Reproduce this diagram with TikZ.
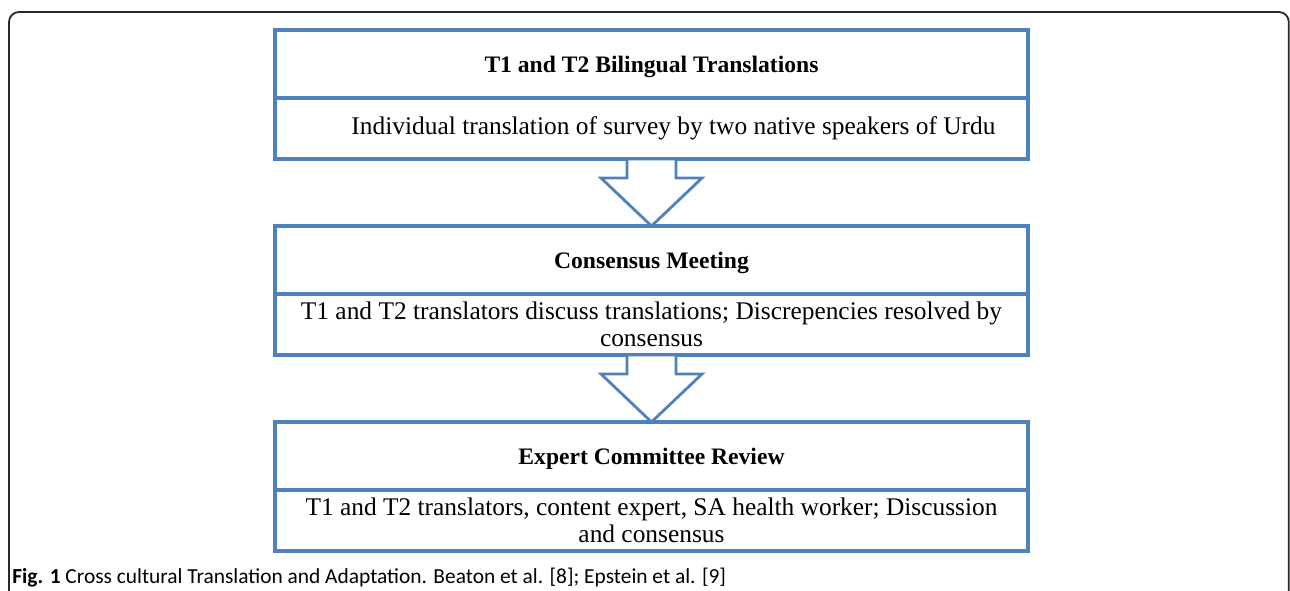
\documentclass[tikz,border=0pt]{standalone}
\usepackage{xcolor}
\usepackage{fontspec}
\setmainfont{Liberation Serif}
\newfontfamily\capfont{Carlito}
\usepackage{tikz}
\usetikzlibrary{shapes,arrows,positioning,calc}
\definecolor{boxblue}{RGB}{79,129,189}
\definecolor{framegray}{RGB}{40,40,40}

\begin{document}
\begin{tikzpicture}[
    head/.style={rectangle, draw=boxblue, line width=1.8pt, outer sep=0pt, align=center, text depth=0pt, minimum width=376.5pt, minimum height=34pt, font=\fontsize{11.8}{14}\selectfont\bfseries},
    body/.style={rectangle, draw=boxblue, line width=1.8pt, outer sep=0pt, align=flush center, text width=355pt, inner sep=2pt, minimum width=376.5pt, minimum height=30.5pt, font=\fontsize{12.7}{13.5}\selectfont},
    blockarrow/.style={draw=boxblue, line width=1.4pt, fill=white, line join=miter}
]
    \useasboundingbox (0,0) rectangle (645pt,-295pt);
    \draw[framegray, line width=0.9pt, rounded corners=5pt] (4.5pt,-320pt) -- (4.5pt,-6pt) -- (644.4pt,-6pt) -- (644.4pt,-320pt);

    \node[head] (t1) at (325.75pt,-32pt) {T1 and T2 Bilingual Translations};
    \node[body, below=0pt of t1] (b1) {\hspace*{22pt}Individual translation of survey by two native speakers of Urdu};
    \node[head, below=33.5pt of b1] (t2) {Consensus Meeting};
    \node[body, below=0pt of t2] (b2) {T1 and T2 translators discuss translations; Discrepencies resolved by consensus};
    \node[head, below=33.5pt of b2] (t3) {Expert Committee Review};
    \node[body, below=0pt of t3] (b3) {T1 and T2 translators, content expert, SA health worker; Discussion and consensus};

    % block arrows between the stages
    \foreach \a/\b in {b1/t2, b2/t3}
        \draw[blockarrow] ($(\a.south)+(-12.25pt,0)$) -- ($(\a.south)+(-12.25pt,-9.5pt)$)
            -- ($(\a.south)+(-25.25pt,-9.5pt)$) -- (\b.north)
            -- ($(\a.south)+(25.25pt,-9.5pt)$) -- ($(\a.south)+(12.25pt,-9.5pt)$)
            -- ($(\a.south)+(12.25pt,0)$) -- cycle;

    \node[anchor=west, inner sep=0pt, font=\capfont\fontsize{10.7}{12}\selectfont] (cap) at (6pt,-289pt) {\textbf{Fig. 1} Cross cultural Translation and Adaptation. Beaton et al. [8]; Epstein et al. [9]};
\end{tikzpicture}
\end{document}
